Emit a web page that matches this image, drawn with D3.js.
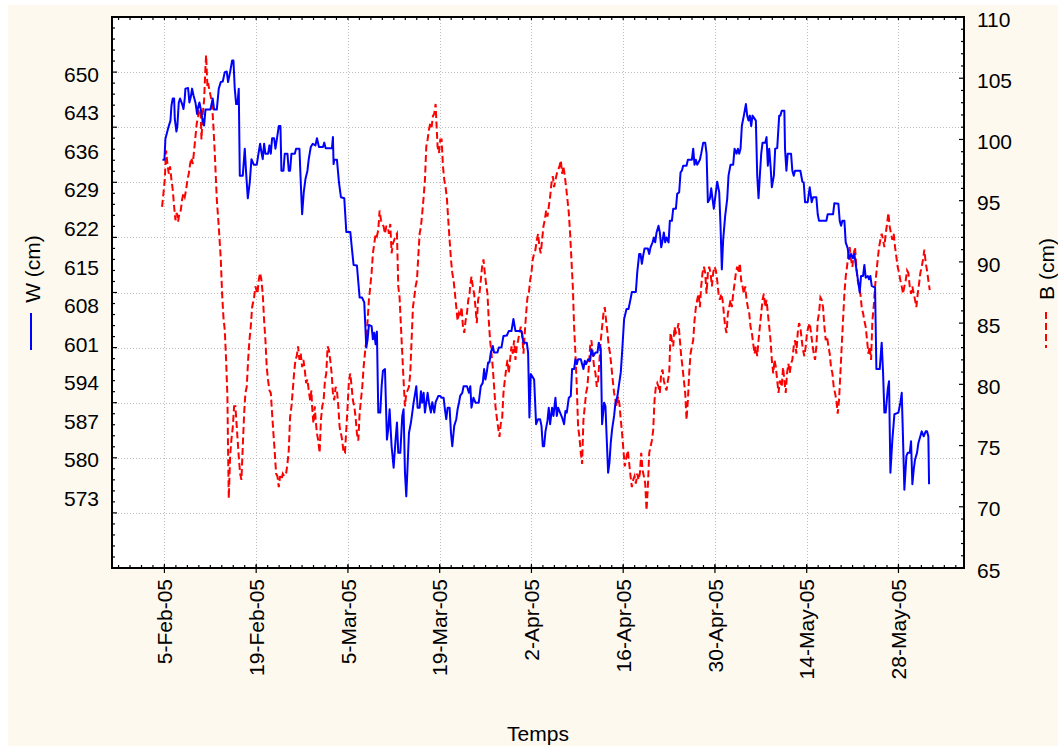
<!DOCTYPE html>
<html><head><meta charset="utf-8">
<script src="https://cdn.jsdelivr.net/npm/d3@7"></script>
<style>
html,body{margin:0;padding:0;background:#fff;}
svg{display:block;font-family:"Liberation Sans",Arial,sans-serif;}
</style></head><body>
<svg id="chart" width="1058" height="751"></svg>
<script>
// ---------- data ----------
const startDate = "2005-02-05";          // day 0 of the series
const domainStartDay = -8;               // 28-Jan-05
const domainEndDay = 122;                // 7-Jun-05
const xTickDays = [0, 14, 28, 42, 56, 70, 84, 98, 112];
const wTickLabels = [573, 580, 587, 594, 601, 608, 615, 622, 629, 636, 643, 650];
const bTickLabels = [65, 70, 75, 80, 85, 90, 95, 100, 105, 110];
const wDomain = [560, 660];
const bDomain = [65, 110];
const xTitle = "Temps";
const wTitle = "W (cm)";
const bTitle = "B (cm)";

// W (cm): [day since 5-Feb-05, value]
const wSeries = [
[-0.3,634.1],[0,634.1],[0.15,637.9],[0.41,639.1],[0.66,640.2],[0.92,641.2],[1.07,643.9],[1.27,645.2],[1.48,645.2],[1.58,641.5],[1.83,639.2],[1.98,640.3],[2.19,644.5],[2.39,645.2],[2.7,644.2],[2.9,643.3],[3.1,645.2],[3.2,647],[3.61,647.1],[3.81,644.5],[4.02,645.5],[4.22,647],[4.43,645.8],[4.73,644.5],[4.98,642.4],[5.14,643.6],[5.34,644.5],[5.54,643.3],[5.75,641.8],[6.05,640.3],[6.26,643.2],[7.02,643.2],[7.37,645.2],[7.58,643.2],[7.99,643.2],[8.29,647],[8.6,648.2],[8.9,648.3],[9.21,650],[9.51,650.1],[9.71,648.2],[10.02,650],[10.33,652.1],[10.53,652.1],[10.73,647],[10.94,644.2],[11.14,644.2],[11.34,647],[11.5,631.2],[11.95,631.2],[12.26,636.1],[12.46,631.8],[12.72,627.1],[13.02,630],[13.28,634.2],[13.63,633.2],[14.09,633.2],[14.39,635.5],[14.6,637],[14.8,635.5],[15,634.2],[15.21,637],[15.41,635.2],[15.82,635.2],[16.02,636.7],[16.23,635.2],[16.43,638],[16.73,638],[16.94,636.1],[17.24,638.5],[17.45,640.2],[17.7,640.2],[17.85,632.1],[18.16,632.1],[18.36,635.2],[18.77,635.2],[18.97,632.1],[19.17,632.1],[19.38,635.2],[19.89,635.2],[20.09,636.1],[20.6,636.1],[20.8,630],[21.01,624.2],[21.26,628.2],[21.52,630.6],[21.82,632.1],[22.02,634.2],[22.33,636.4],[22.63,637],[23.04,636.7],
[23.27,638],[23.58,636.4],[24.19,636.4],[24.39,637.2],[24.59,636.2],[25.56,636.2],[25.71,638.2],[25.81,633.3],[25.91,634.1],[26.32,634.1],[26.63,630],[26.93,627.3],[27.44,627.1],[27.75,621],[28.36,621],[28.56,618.5],[28.86,615],[29.37,614.9],[29.78,609.1],[30.14,609.1],[30.49,608.2],[30.8,600],[31,601.5],[31.2,604.1],[31.61,603.9],[31.81,601.5],[32.02,602.7],[32.22,600.6],[32.42,602.9],[32.63,588.2],[32.93,588.2],[33.14,593],[33.34,595.8],[33.65,596.1],[33.95,583.3],[34.15,585.2],[34.36,588.8],[34.66,582.1],[34.97,578.2],[35.27,583.3],[35.48,586.4],[35.68,580.9],[35.99,580.9],[36.29,587.6],[36.49,588.8],[36.7,577.3],[36.9,573],[37.1,578.5],[37.31,584.5],[37.61,586.4],[37.82,588.2],[38.02,590],[38.43,593],[38.63,589.1],[38.94,589.1],[39.14,592.1],[39.34,590],[39.55,591.8],[39.75,588.2],[39.95,590],[40.16,591.8],[40.36,590],[40.66,588.2],[40.87,590.1],[41.17,588.2],[41.38,590.1],[41.78,591.2],[42.09,591.2],[42.29,590.9],[42.6,590.9],[42.8,588.8],[43,587],[43.21,589.1],[43.51,589.1],[43.72,584.5],[43.92,582.1],[44.22,585.8],[44.53,587],[44.73,588.8],[44.94,590],[45.14,591.3],[45.45,591.8],[45.65,593],[46.16,593],[46.46,591.8],[46.67,593],
[46.85,589.1],[47.15,590.9],[47.46,590],[47.96,590],[48.27,593],[48.57,593.6],[48.78,596.1],[48.98,594.2],[49.18,595.5],[49.39,597.3],[49.59,597.3],[49.8,599.1],[50.1,600.3],[50.3,599.1],[50.81,599.1],[51.02,600],[51.42,600],[51.73,602.1],[52.24,602.2],[52.54,603],[52.95,603],[53.25,605.2],[53.56,603],[54.47,603],[54.78,600.9],[55.29,600.9],[55.49,599.1],[55.69,587.3],[55.9,595.2],[56.41,594.2],[56.71,586.1],[57.02,587],[57.32,587],[57.53,585.8],[57.73,582.1],[57.93,582.1],[58.14,584.8],[58.44,586.7],[58.64,589.1],[58.85,586.1],[59.15,589.1],[59.36,587.6],[59.66,590.9],[59.87,587.6],[60.07,589.1],[60.37,588.2],[60.68,587.3],[60.98,586.1],[61.19,588.5],[61.39,588.2],[61.7,590.9],[62,591.2],[62.2,596.1],[62.51,596.1],[62.71,597.9],[62.92,597],[63.12,597.9],[63.53,597.9],[63.73,597],[63.93,596.1],[64.14,597.6],[64.34,597],[64.65,597.9],[64.95,597.6],[65.15,599.7],[65.46,598.5],[65.77,599.1],[66.07,599.1],[66.27,600.9],[66.58,599.7],[66.78,586.1],[67.09,590],[67.29,589.4],[67.49,583.3],[67.7,577.3],[67.9,579.1],[68.1,582.7],[68.31,585.2],[68.61,587.6],[68.82,590],[69.12,591.2],[69.33,593],[69.63,595.5],[69.83,599.1],[70.14,605.2],
[70.51,607],[70.81,607],[71.12,608.8],[71.32,610.1],[71.93,610.1],[72.14,613.6],[72.44,617],[72.64,617],[72.85,615.2],[73.05,616.7],[73.26,618],[73.76,618],[73.97,617],[74.17,618.2],[74.48,619.1],[74.68,620],[74.88,619.1],[75.09,620.9],[75.39,622.1],[75.59,620.9],[75.8,618.2],[76,619.4],[76.2,620.9],[76.41,619.1],[76.61,620],[76.92,619.1],[77.12,623],[77.43,623],[77.63,625.2],[78.04,625.2],[78.24,627.9],[78.54,628.2],[78.75,631.8],[78.95,632.1],[79.15,633],[79.66,633],[79.87,634.1],[80.48,634.1],[80.68,636.1],[80.88,633.2],[81.09,634.1],[81.29,633.2],[81.7,634.1],[81.9,635.2],[82.21,637.2],[82.51,637.2],[82.72,635.2],[82.92,626.4],[83.22,627],[83.43,628.9],[83.63,627],[83.83,625.2],[84.14,628.2],[84.34,630.1],[84.65,628.2],[84.85,622.1],[85.05,614.2],[85.26,619.7],[85.56,623.9],[85.87,627],[86.07,631.2],[86.38,633.2],[86.78,633.2],[86.99,636.1],[87.29,635.2],[87.5,636.1],[87.7,635.2],[87.9,636.1],[88.11,640.3],[88.41,642.1],[88.72,644.2],[88.92,642.1],[89.12,641.2],[89.33,642.1],[89.53,640.2],[89.73,642.1],[90.24,641.2],[90.45,631.2],[90.65,627.1],[90.85,631.2],[91.06,635.2],[91.26,637.2],[91.67,637.2],[91.87,638.2],[92.07,633],[92.28,636.1],[92.48,633],[92.68,629.1],[92.99,631.2],[93.19,636.1],[93.5,636.2],[93.8,642.1],
[93.98,642.1],[94.19,643],[94.59,643],[94.69,636.1],[94.9,632.1],[95.1,635.2],[95.61,635.2],[95.81,632.1],[96.02,631.2],[96.22,632.1],[97.03,632.1],[97.34,630.1],[97.54,630],[97.75,626.4],[98.15,626.4],[98.46,629.1],[98.76,626.4],[98.97,627.3],[99.47,627.3],[99.68,624.2],[99.88,623],[101,623],[101.2,624.2],[102.02,624.2],[102.22,626.2],[102.83,626.1],[103.04,623],[103.24,622.1],[103.44,623],[103.75,623],[103.95,619.1],[104.26,618],[104.46,616.1],[104.76,617],[105.07,616.2],[105.27,617],[105.58,614.2],[105.88,611.8],[106.09,610],[106.29,613],[106.6,613],[106.8,615],[107,612.7],[107.31,613],[107.51,612.4],[107.71,613],[107.92,611.2],[108.43,610.9],[108.63,596.1],[109.14,596.1],[109.44,600.9],[109.65,595.5],[109.85,588.2],[110.05,588.2],[110.36,592.4],[110.56,593.9],[110.77,577.3],[111.07,583.3],[111.38,587.9],[111.99,588.2],[112.29,590],[112.5,591.8],[112.7,583.3],[112.9,574.2],[113.21,580.3],[113.41,580.9],[113.72,580.9],[113.92,583],[114.12,575.2],[114.33,577.9],[114.53,579.7],[114.83,580.9],[115.04,582.7],[115.34,583.9],[115.55,584.8],[115.85,583.9],[116.16,584.8],[116.36,584.8],[116.56,583.9],[116.67,575.2]
];

// B (cm): [day since 5-Feb-05, value]
const bSeries = [
[-0.36,94.5],[-0.15,95.6],[0.05,96.7],[0.25,99.1],[0.46,98],[0.66,97.2],[0.86,97.8],[1.07,96.7],[1.27,95.9],[1.48,94.5],[1.68,93.4],[1.88,94],[2.09,93.3],[2.29,94],[2.49,94.2],[2.7,95.1],[2.9,95.6],[3.1,95.3],[3.31,95.9],[3.51,96.7],[3.71,97.2],[3.92,98],[4.12,98.5],[4.32,98],[4.53,99.1],[4.73,100.2],[4.93,101.3],[5.14,101.9],[5.34,102.9],[5.54,101.9],[5.65,100],[5.85,102.1],[6.05,103.2],[6.26,105.9],[6.36,106.9],[6.56,104.3],[6.66,104.6],[6.87,104],[7.07,103.5],[7.27,102.9],[7.48,101],[7.68,98.9],[7.99,95.1],[8.29,92.9],[8.6,90.2],[8.8,87.4],[9,85.5],[9.21,84.4],[9.41,82],[9.61,79],[9.71,74.6],[9.82,70.7],[10.02,74.1],[10.22,75.5],[10.43,76.5],[10.63,78.2],[10.83,78.2],[11.04,76.5],[11.14,75.7],[11.34,74.1],[11.55,72.7],[11.75,72.2],[11.95,74.9],[12.16,77.6],[12.36,79.3],[12.56,79.8],[12.77,82],[12.97,83.6],[13.17,84.7],[13.38,86.3],[13.68,87.1],[13.89,88],[14.19,87.4],[14.39,88.5],[14.6,89.1],[14.8,88.5],[15,87.4],[15.21,85.2],[15.41,83.6],[15.61,81.4],[15.82,80.3],[16.02,79.5],[16.23,79.3],[16.43,77.6],[16.63,76],[16.84,74.4],[17.04,72.7],[17.24,72.5],[17.45,71.6],[17.65,72.5],[17.85,72.2],[18.06,72.7],[18.26,72.5],[18.56,72.7],[18.77,73.5],[18.97,74.6],[19.17,77.3],[19.38,78.2],[19.58,79.5],[19.78,80.9],[19.99,82],[20.19,82.3],[20.39,83.1],[20.6,82],[20.8,82.5],[21.01,81.4],[21.21,82],[21.41,81.2],[21.62,80.1],[21.82,80.4],[22.02,79.5],[22.23,78.7],[22.43,79.5],[22.53,78.2],[22.73,76.8],[22.94,78.2],
[23.07,77.1],[23.27,76],[23.47,75.4],[23.68,74.4],[23.88,77.1],[24.08,78.2],[24.29,78.7],[24.49,80.3],[24.69,80.9],[24.9,83.1],[25.1,82.8],[25.3,82],[25.51,80.9],[25.71,79.3],[25.91,78.7],[26.12,79.8],[26.32,79.5],[26.53,78.2],[26.73,76.5],[26.93,76],[27.14,75.4],[27.34,74.4],[27.54,74.4],[27.75,76.3],[27.95,78.2],[28.15,80.3],[28.36,80.9],[28.56,79.8],[28.76,78.7],[28.97,78.2],[29.17,77.3],[29.37,76],[29.58,75.4],[29.78,77.6],[29.98,78.7],[30.19,79.8],[30.39,81.4],[30.59,82.5],[30.8,83.6],[31,85.2],[31.2,86.9],[31.41,88],[31.61,89.1],[31.81,90.7],[32.02,91.5],[32.22,92.3],[32.42,92.1],[32.63,92.6],[32.83,94.2],[33.04,93.4],[33.24,93.1],[33.44,92.9],[33.65,92.3],[33.85,92.9],[34.05,92.9],[34.26,92.3],[34.46,93.1],[34.66,90.7],[34.87,91.5],[35.07,91.8],[35.27,92.1],[35.48,92.3],[35.68,88],[35.88,87.1],[36.09,84.7],[36.29,82.5],[36.49,80.3],[36.7,78.2],[36.9,79.3],[37.1,79.5],[37.31,79.8],[37.51,80.9],[37.71,83.6],[37.92,86.3],[38.12,87.1],[38.32,88],[38.53,88.5],[38.73,90.4],[38.94,92.3],[39.14,92.9],[39.34,94],[39.55,95.3],[39.75,96.7],[39.95,99.4],[40.16,100],[40.36,100.8],[40.56,101.3],[40.77,101],[40.97,101.9],[41.17,102.1],[41.38,102.9],[41.48,101.6],[41.68,99.4],[41.89,98.9],[42.09,100],[42.29,100],[42.5,97.8],[42.7,96.7],[42.9,96.1],[43.11,95.1],[43.31,93.4],[43.51,91.8],[43.72,90.2],[43.92,89.1],[44.12,88.5],[44.33,87.4],[44.53,86.3],[44.73,85.2],[44.94,85.8],[45.14,85.5],[45.34,86.3],[45.55,84.7],[45.75,84.2],[45.95,85.2],[46.16,85.8],[46.36,86.9],[46.56,87.4],
[46.64,88],[46.85,88.8],[47.05,88],[47.25,87.4],[47.46,86.3],[47.66,85],[47.86,86.9],[48.07,87.4],[48.27,88.5],[48.47,89.6],[48.68,90.2],[48.88,89.1],[49.08,88.2],[49.29,87.4],[49.49,85.2],[49.69,83.6],[49.9,82.5],[50.1,81.4],[50.3,79.8],[50.51,78.2],[50.71,77.3],[50.91,76.5],[51.12,75.7],[51.32,76.8],[51.52,77.1],[51.73,79.3],[51.93,80.3],[52.13,81.2],[52.34,82],[52.54,80.9],[52.74,82],[52.95,83.1],[53.15,82.5],[53.36,83.6],[53.56,82],[53.76,83.1],[53.97,83.6],[54.17,84.2],[54.37,84.7],[54.58,84.2],[54.78,82.5],[54.98,84.2],[55.19,85.8],[55.39,87.1],[55.59,87.4],[55.8,88.5],[56,89.1],[56.2,90.2],[56.41,90.7],[56.61,91],[56.81,91.8],[57.02,92.3],[57.22,91.2],[57.42,90.7],[57.63,91.8],[57.83,92.9],[58.03,93.4],[58.24,94.2],[58.44,93.7],[58.64,94.5],[58.85,95.3],[59.05,96.4],[59.26,97],[59.46,96.1],[59.66,96.7],[59.87,97.2],[60.07,97.5],[60.27,97.8],[60.48,98.3],[60.68,97.2],[60.88,97.8],[61.09,97],[61.29,96.1],[61.49,95.1],[61.7,94],[61.9,92.3],[62.1,90.2],[62.31,88],[62.51,84.7],[62.71,82.5],[62.92,79.8],[63.12,76.5],[63.32,75.7],[63.53,74.4],[63.73,73.5],[63.93,77.1],[64.14,78.2],[64.34,79.3],[64.54,79.8],[64.75,81.4],[64.95,83.1],[65.15,83.6],[65.36,82.5],[65.56,81.4],[65.77,80.9],[65.97,79.8],[66.17,80.3],[66.38,82],[66.58,83.6],[66.78,84.7],[66.99,85.8],[67.19,86.3],[67.39,85.2],[67.6,84.2],[67.8,83.1],[68,82.5],[68.21,81.4],[68.41,80.3],[68.61,79.3],[68.82,78.7],[69.02,78.2],[69.22,79],[69.43,78.4],[69.63,77.1],[69.83,76],[70.04,74.6],[70.24,73.3],
[70.51,74.1],[70.71,74.6],[70.92,73.5],[71.12,72.5],[71.32,71.6],[71.53,72.2],[71.73,72.5],[71.93,71.9],[72.14,72.7],[72.34,72.2],[72.54,72.7],[72.75,74.4],[72.95,73],[73.15,72.5],[73.36,71.9],[73.56,69.7],[73.76,71.6],[73.97,74.4],[74.17,74.9],[74.37,75.4],[74.58,76.3],[74.78,78.7],[74.98,79.8],[75.19,80.1],[75.39,79.8],[75.59,79.3],[75.8,80.9],[76,81.2],[76.2,80.3],[76.41,79.8],[76.61,79.5],[76.82,80.3],[77.02,80.9],[77.22,84.2],[77.43,83.6],[77.63,83.1],[77.83,84.7],[78.04,84.2],[78.24,84.4],[78.44,85],[78.65,83.6],[78.85,82.3],[79.05,81.4],[79.26,80.3],[79.46,79.3],[79.66,77.1],[79.87,78.7],[80.07,80.9],[80.27,82.5],[80.48,83.1],[80.68,83.6],[80.88,85.2],[81.09,86.3],[81.29,86.9],[81.49,87.4],[81.7,86.3],[81.9,88],[82.1,89.1],[82.31,89.6],[82.51,89.1],[82.72,87.4],[82.92,89.1],[83.12,89.6],[83.33,89.1],[83.53,88],[83.73,89.1],[83.94,89.6],[84.14,89.3],[84.34,88.5],[84.55,87.4],[84.75,86.9],[84.95,87.4],[85.16,86.9],[85.36,85.8],[85.56,84.7],[85.77,84.2],[85.97,85.8],[86.17,86.3],[86.38,86.9],[86.58,86.3],[86.78,87.4],[86.99,88.2],[87.19,89.1],[87.39,89.6],[87.6,89.1],[87.8,89.9],[88,88.5],[88.21,88],[88.41,87.4],[88.62,88],[88.82,86.9],[89.02,86.3],[89.23,85.8],[89.43,84.7],[89.63,84.2],[89.84,83.3],[90.04,82.5],[90.24,83.1],[90.45,82.3],[90.65,83.6],[90.85,84.7],[91.06,85.8],[91.26,86.9],[91.46,87.4],[91.67,86.3],[91.87,86.9],[92.07,85.8],[92.28,84.7],[92.48,83.6],[92.68,82],[92.89,80.9],[93.09,82],[93.29,81.4],[93.5,80.3],[93.7,79.3],[93.9,80.3],
[94.19,79.8],[94.39,81.4],[94.59,80.3],[94.8,79.3],[95,80.9],[95.2,81.7],[95.41,80.9],[95.61,81.7],[95.81,82],[96.02,83.1],[96.22,83.6],[96.42,82.5],[96.63,84.2],[96.83,85],[97.03,84.7],[97.24,83.6],[97.44,82.8],[97.64,82.3],[97.85,83.1],[98.05,84.2],[98.25,84.7],[98.46,85],[98.66,84.2],[98.86,83.3],[99.07,82.5],[99.27,82],[99.47,83.1],[99.68,85.2],[99.88,85.8],[100.09,87.1],[100.29,86.9],[100.49,86.3],[100.7,84.7],[100.9,83.6],[101.1,83.9],[101.31,83.1],[101.51,82.5],[101.71,81.4],[101.92,80.9],[102.12,79.8],[102.32,79.3],[102.53,78.7],[102.73,77.6],[102.93,78.7],[103.14,80.9],[103.34,83.1],[103.54,85.2],[103.75,87.4],[103.95,88.8],[104.15,89.6],[104.36,90.7],[104.56,91.2],[104.76,90.2],[104.97,89.6],[105.17,90.7],[105.37,91.2],[105.58,89.6],[105.78,88.5],[105.99,88],[106.19,87.4],[106.39,86.3],[106.6,85.8],[106.8,85.2],[107,84.7],[107.21,83.6],[107.41,82.5],[107.61,83.1],[107.82,82],[108.02,85.2],[108.22,86.3],[108.43,88],[108.63,89.1],[108.83,90.2],[109.04,91.2],[109.24,91.8],[109.44,92.3],[109.65,91.8],[109.85,91.2],[110.05,92.3],[110.26,93.1],[110.46,94],[110.66,92.9],[110.87,92.3],[111.07,91.8],[111.27,92.3],[111.48,91.2],[111.68,90.4],[111.88,89.6],[112.09,89.1],[112.29,88.5],[112.5,88],[112.7,87.4],[112.9,88],[113.11,88.5],[113.31,89.3],[113.51,89.1],[113.72,88],[113.92,87.4],[114.12,88],[114.33,87.4],[114.53,86.9],[114.73,86.3],[114.94,87.4],[115.14,88.2],[115.34,89.1],[115.55,89.6],[115.75,90.2],[115.95,91],[116.16,89.9],[116.36,89.3],[116.56,88.5],[116.77,87.7]
];

// ---------- layout ----------
const W = 1058, H = 751;
const plot = {left: 112, right: 964, top: 17, bottom: 568};
const FONT = 21;

const t0 = d3.timeParse("%Y-%m-%d")(startDate);
const toDate = d => new Date(t0.getTime() + d * 864e5);

const x = d3.scaleTime().domain([toDate(domainStartDay), toDate(domainEndDay)]).range([plot.left, plot.right]);
const yW = d3.scaleLinear().domain(wDomain).range([plot.bottom, plot.top]);
const yB = d3.scaleLinear().domain(bDomain).range([plot.bottom, plot.top]);

const svg = d3.select("#chart");

// background
svg.append("rect").attr("x", 0).attr("y", 0).attr("width", W).attr("height", H).attr("fill", "#ffffff");
svg.append("rect").attr("x", 8).attr("y", 5).attr("width", W - 8).attr("height", H - 10).attr("fill", "#fdf9ef");
svg.append("rect").attr("x", plot.left).attr("y", plot.top)
  .attr("width", plot.right - plot.left).attr("height", plot.bottom - plot.top).attr("fill", "#ffffff");

// grid
const grid = svg.append("g").attr("stroke", "#bdbdbd").attr("stroke-width", 1).attr("stroke-dasharray", "1,2");
const wGrid = d3.range(wDomain[0] + 10, wDomain[1], 10);
grid.selectAll("line.h").data(wGrid).join("line")
  .attr("x1", plot.left).attr("x2", plot.right)
  .attr("y1", d => Math.round(yW(d)) + 0.5).attr("y2", d => Math.round(yW(d)) + 0.5);
grid.selectAll("line.v").data(xTickDays).join("line")
  .attr("y1", plot.top).attr("y2", plot.bottom)
  .attr("x1", d => Math.round(x(toDate(d))) + 0.5).attr("x2", d => Math.round(x(toDate(d))) + 0.5);

// clip
svg.append("clipPath").attr("id", "clip").append("rect")
  .attr("x", plot.left).attr("y", plot.top).attr("width", plot.right - plot.left).attr("height", plot.bottom - plot.top);

const series = svg.append("g").attr("clip-path", "url(#clip)");
const lineB = d3.line().x(d => x(toDate(d[0]))).y(d => yB(d[1]));
const lineW = d3.line().x(d => x(toDate(d[0]))).y(d => yW(d[1]));

series.append("path").datum(bSeries).attr("d", lineB)
  .attr("fill", "none").attr("stroke", "#ff0000").attr("stroke-width", 2)
  .attr("stroke-dasharray", "7,3.5");
series.append("path").datum(wSeries).attr("d", lineW)
  .attr("fill", "none").attr("stroke", "#0000ff").attr("stroke-width", 2)
  .attr("stroke-linejoin", "round");

// frame
svg.append("rect").attr("x", plot.left).attr("y", plot.top)
  .attr("width", plot.right - plot.left).attr("height", plot.bottom - plot.top)
  .attr("fill", "none").attr("stroke", "#000").attr("stroke-width", 2);

const ticks = svg.append("g").attr("stroke", "#000").attr("stroke-width", 1.2);

// left axis ticks (inside)
const wMinor = d3.range(wDomain[0], wDomain[1] + 0.001, 2);
ticks.selectAll("line.wl").data(wMinor).join("line")
  .attr("x1", plot.left).attr("x2", d => plot.left + (d % 10 === 0 ? 5 : 3))
  .attr("y1", d => yW(d)).attr("y2", d => yW(d));

// right axis ticks (inside)
const bMinor = d3.range(bDomain[0], bDomain[1] + 0.001, 1);
ticks.selectAll("line.br").data(bMinor).join("line")
  .attr("x1", plot.right).attr("x2", d => plot.right - (d % 5 === 0 ? 5 : 3))
  .attr("y1", d => yB(d)).attr("y2", d => yB(d));

// x minor ticks every 1.75 days (8 per 2 weeks)
const xMinorDays = d3.range(-4, 70).map(k => k * 1.75).filter(d => d >= domainStartDay && d <= domainEndDay);
ticks.selectAll("line.xb").data(xMinorDays).join("line")
  .attr("x1", d => x(toDate(d))).attr("x2", d => x(toDate(d)))
  .attr("y1", plot.bottom).attr("y2", plot.bottom - 3);
ticks.selectAll("line.xt").data(xMinorDays).join("line")
  .attr("x1", d => x(toDate(d))).attr("x2", d => x(toDate(d)))
  .attr("y1", plot.top).attr("y2", plot.top + 3);
ticks.selectAll("line.xM").data(xTickDays).join("line")
  .attr("x1", d => x(toDate(d))).attr("x2", d => x(toDate(d)))
  .attr("y1", plot.bottom - 4).attr("y2", plot.bottom + 5);

// labels
const labels = svg.append("g").attr("font-size", FONT).attr("fill", "#000");
labels.selectAll("text.wl").data(wTickLabels).join("text")
  .attr("x", 99).attr("y", d => yW(d)).attr("dy", "0.46em")
  .attr("text-anchor", "end").text(d => d);
labels.selectAll("text.bl").data(bTickLabels).join("text")
  .attr("x", 977).attr("y", d => yB(d)).attr("dy", "0.46em")
  .attr("text-anchor", "start").text(d => d);
const fmt = d3.timeFormat("%-d-%b-%y");
labels.selectAll("text.xl").data(xTickDays).join("text")
  .attr("transform", d => `translate(${x(toDate(d))},579) rotate(-90)`)
  .attr("dy", "0.36em").attr("text-anchor", "end").text(d => fmt(toDate(d)));

// axis titles + legend samples
labels.append("text").attr("x", 538).attr("y", 733).attr("dy", "0.36em")
  .attr("text-anchor", "middle").text(xTitle);
labels.append("text").attr("transform", "translate(32,269) rotate(-90)")
  .attr("dy", "0.36em").attr("text-anchor", "middle").text(wTitle);
labels.append("text").attr("transform", "translate(1046,269) rotate(-90)")
  .attr("dy", "0.36em").attr("text-anchor", "middle").text(bTitle);
svg.append("line").attr("x1", 31).attr("x2", 31).attr("y1", 313).attr("y2", 350)
  .attr("stroke", "#0000ff").attr("stroke-width", 2);
svg.append("line").attr("x1", 1046).attr("x2", 1046).attr("y1", 312).attr("y2", 348)
  .attr("stroke", "#ff0000").attr("stroke-width", 2).attr("stroke-dasharray", "7,4");
</script>
</body></html>
